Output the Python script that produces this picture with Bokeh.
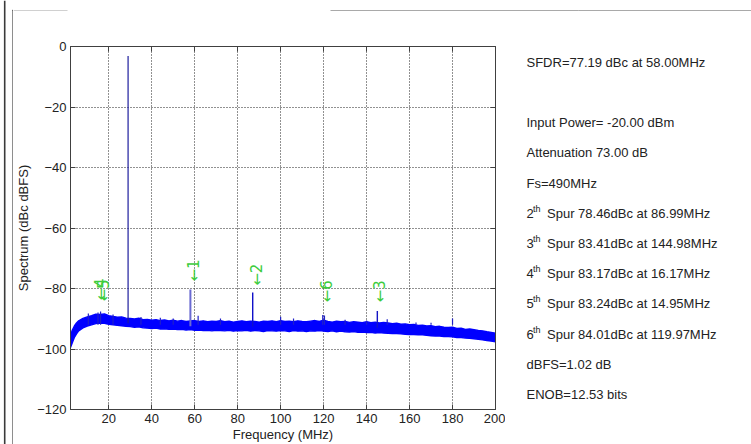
from bokeh.plotting import figure
from bokeh.layouts import row, column
from bokeh.models import LinearAxis, FixedTicker
from bokeh.core.properties import value
from bokeh.embed import file_html
from bokeh.resources import INLINE

# ---------------- data ----------------
x_ticks = [20, 40, 60, 80, 100, 120, 140, 160, 180, 200]
y_ticks = [-120, -100, -80, -60, -40, -20, 0]

floor_freq = [2.2, 3, 4, 5, 6, 8, 10, 12, 14, 16, 18, 20, 22, 24, 26, 28, 30, 32, 34, 36, 38,
              40, 42, 44, 46, 48, 50, 52, 54, 56, 58, 60, 62, 64, 66, 68, 70, 72, 74, 76, 78,
              80, 82, 84, 86, 88, 90, 92, 94, 96, 98, 100, 102, 104, 106, 108, 110, 112, 114,
              116, 118, 120, 122, 124, 126, 128, 130, 132, 134, 136, 138, 140, 142, 144, 146,
              148, 150, 152, 154, 156, 158, 160, 162, 164, 166, 168, 170, 172, 174, 176, 178,
              180, 182, 184, 186, 188, 190, 192, 194, 196, 198, 200]
floor_top = [-95.8, -93.8, -92.4, -91.4, -90.7, -89.9, -89.4, -89.0, -88.5, -88.6, -88.4, -89.0,
             -89.2, -89.5, -89.4, -89.8, -89.9, -90.1, -89.8, -90.3, -90.2, -90.5, -90.3, -90.6,
             -90.4, -90.7, -90.5, -90.8, -90.6, -90.9, -90.7, -90.6, -90.9, -90.7, -91.0, -90.8,
             -90.9, -90.6, -91.0, -90.8, -91.1, -90.9, -90.7, -91.0, -90.8, -90.9, -91.1, -90.8,
             -90.9, -90.7, -91.0, -90.6, -90.9, -90.8, -91.0, -90.7, -90.9, -91.0, -90.8, -90.6,
             -90.9, -90.5, -90.9, -91.1, -90.8, -91.0, -90.9, -91.2, -91.0, -91.1, -91.3, -91.0,
             -91.3, -91.1, -91.4, -91.2, -91.4, -91.6, -91.5, -91.8, -91.7, -92.0, -91.9, -92.2,
             -92.1, -92.4, -92.3, -92.6, -92.5, -92.8, -92.9, -92.8, -93.2, -93.1, -93.5, -93.4,
             -93.6, -93.9, -94.0, -94.3, -94.5, -94.8]
floor_bottom = [-99.5, -98.0, -96.2, -95.0, -94.0, -93.0, -92.4, -92.0, -91.6, -91.4, -91.5, -91.8,
                -92.0, -92.2, -92.3, -92.5, -92.6, -92.8, -92.7, -93.0, -93.1, -93.2, -93.1, -93.4,
                -93.3, -93.5, -93.4, -93.6, -93.5, -93.7, -93.6, -93.8, -93.7, -93.9, -93.8, -94.0,
                -93.8, -93.9, -94.0, -93.8, -94.1, -93.9, -94.0, -93.8, -94.1, -93.9, -94.0, -94.2,
                -93.9, -94.0, -94.1, -93.9, -94.0, -94.2, -93.9, -94.1, -94.0, -94.2, -94.0, -94.1,
                -93.9, -94.1, -94.2, -94.0, -94.3, -94.1, -94.3, -94.4, -94.2, -94.5, -94.4, -94.6,
                -94.5, -94.7, -94.6, -94.7, -94.8, -94.9, -94.9, -95.0, -95.1, -95.2, -95.2, -95.3,
                -95.3, -95.5, -95.6, -95.7, -95.7, -95.9, -95.9, -96.0, -96.2, -96.2, -96.4, -96.5,
                -96.6, -96.8, -97.0, -97.2, -97.4, -97.6]

# main tones / spurs (MHz, dBFS)
tone_freq = [29.0, 58.0, 87.0, 145.0]
tone_top = [-3.1, -80.3, -81.3, -87.4]
tone_base = [-91.5, -92.5, -92.6, -93.0]

# small spikes riding on the noise floor
small_freq = [10.5, 15.0, 16.2, 22.0, 35.0, 44.0, 50.0, 61.6, 72.0, 100.0, 106.0, 119.6, 120.4,
              130.0, 140.0, 149.6, 163.0, 170.0, 180.0, 189.8]
small_top = [-88.3, -87.9, -87.6, -88.6, -89.4, -89.7, -89.9, -89.0, -89.9, -89.3, -89.9, -88.8,
             -88.9, -90.3, -90.6, -90.2, -91.2, -91.3, -89.9, -92.0]

# green spur markers
marker_label = ["1", "2", "3", "4", "5", "6"]
marker_freq = [59.5, 89.0, 146.3, 16.6, 17.8, 121.6]
marker_tip = [-77.7, -79.1, -84.6, -84.0, -84.3, -84.6]

# text panel
sfdr_text = "SFDR=77.19 dBc at 58.00MHz"
info_text = ["Input Power= -20.00 dBm", "Attenuation 73.00 dB", "Fs=490MHz"]
spur_order = ["2", "3", "4", "5", "6"]
spur_dbc = [78.46, 83.41, 83.17, 83.24, 84.01]
spur_mhz = [86.99, 144.98, 16.17, 14.95, 119.97]
tail_text = ["dBFS=1.02 dB", "ENOB=12.53 bits"]

FONT = "Liberation Sans"
W, H = 751, 444
LEFT_W = 13      # left strip width
TOP_H = 11       # top strip height
MAIN_W = 492     # main figure width (canvas x 13 .. 505)
TEXT_W = W - LEFT_W - MAIN_W
FR_L, FR_R, FR_T, FR_B = 70, 495, 46, 410   # plot frame in window pixels


def blank(width, height, xr, yr, bt=0, bb=0):
    f = figure(width=width, height=height, output_backend="svg", toolbar_location=None,
               x_range=xr, y_range=yr, x_axis_location=None, y_axis_location=None,
               min_border=0, min_border_left=0, min_border_right=0,
               min_border_top=bt, min_border_bottom=bb,
               background_fill_color="white", border_fill_color="white")
    f.outline_line_color = None
    f.grid.visible = False
    return f


# ---------------- left strip and top strip (window frame lines) ----------------
p_left = blank(LEFT_W, H, (0, LEFT_W), (H, 0))
p_left.segment(x0=[4.2], y0=[0], x1=[4.2], y1=[H], line_color="#3a3a3a", line_width=1.6)
p_left.segment(x0=[12.6], y0=[9.6], x1=[12.6], y1=[H], line_color="#444444", line_width=1.4)
p_left.segment(x0=[12.0], y0=[9.9], x1=[13], y1=[9.9], line_color="#444444", line_width=1.4)

p_top = blank(W - LEFT_W, TOP_H, (LEFT_W, W), (TOP_H, 0))
p_top.segment(x0=[LEFT_W], y0=[9.9], x1=[67], y1=[9.9], line_color="#444444", line_width=1.4)
p_top.segment(x0=[330], y0=[9.6], x1=[578], y1=[9.6], line_color="#555555", line_width=1.2)
p_top.segment(x0=[578], y0=[10.0], x1=[W], y1=[10.0], line_color="#555555", line_width=2.0)

# ---------------- main spectrum figure ----------------
p = figure(width=MAIN_W, height=H - TOP_H, output_backend="svg", toolbar_location=None,
           x_range=(2.2, 200), y_range=(-120, 0),
           min_border_left=FR_L - LEFT_W, min_border_right=MAIN_W - (FR_R - LEFT_W),
           min_border_top=FR_T - TOP_H, min_border_bottom=H - FR_B,
           background_fill_color="white", border_fill_color="white")

p.outline_line_color = "#404040"
p.outline_line_width = 1

for ax in (p.xaxis[0], p.yaxis[0]):
    ax.major_label_text_font = FONT
    ax.major_label_text_font_size = "13px"
    ax.major_label_text_color = "#222222"
    ax.axis_label_text_font = FONT
    ax.axis_label_text_font_size = "13px"
    ax.axis_label_text_font_style = "normal"
    ax.axis_label_text_color = "#222222"
    ax.axis_line_color = "#404040"
    ax.major_tick_line_color = "#404040"
    ax.major_tick_in = 5
    ax.major_tick_out = 0
    ax.minor_tick_line_color = None

p.xaxis[0].ticker = FixedTicker(ticks=x_ticks)
p.yaxis[0].ticker = FixedTicker(ticks=y_ticks)
p.xaxis[0].axis_label = "Frequency (MHz)"
p.yaxis[0].axis_label = "Spectrum (dBc dBFS)"
p.xaxis[0].major_label_standoff = 4
p.xaxis[0].axis_label_standoff = 1
p.yaxis[0].major_label_standoff = 4
p.yaxis[0].axis_label_standoff = 3

# box axes on the right and top: inward ticks only, no labels
for loc, tk in (("right", y_ticks), ("above", x_ticks)):
    a = LinearAxis(ticker=FixedTicker(ticks=tk))
    a.major_label_text_font_size = "0px"
    a.major_label_text_color = None
    a.major_label_standoff = 0
    a.axis_line_color = "#404040"
    a.major_tick_line_color = "#404040"
    a.major_tick_in = 5
    a.major_tick_out = 0
    a.minor_tick_line_color = None
    p.add_layout(a, loc)

p.xgrid.ticker = FixedTicker(ticks=x_ticks)
p.ygrid.ticker = FixedTicker(ticks=y_ticks)
p.grid.grid_line_color = "#222222"
p.grid.grid_line_dash = "1 2"
p.grid.grid_line_width = 1

# noise floor band
p.varea(x=floor_freq, y1=floor_bottom, y2=floor_top, fill_color="#0000ff")
p.line(x=floor_freq, y=floor_top, line_color="#0000ff", line_width=1.4)
p.line(x=floor_freq, y=floor_bottom, line_color="#0000ff", line_width=1.4)

# small spikes
small_base = [-92.0] * len(small_freq)
p.segment(x0=small_freq, y0=small_base, x1=small_freq, y1=small_top,
          line_color="#2020c8", line_width=1.2)

# tones
tone_colors = ["#1c1c9c", "#6a6ad2", "#1010c8", "#1414c4"]
tone_widths = [1.2, 2.0, 1.4, 1.4]
for f, b, t, c, w in zip(tone_freq, tone_base, tone_top, tone_colors, tone_widths):
    p.segment(x0=[f], y0=[b], x1=[f], y1=[t], line_color=c, line_width=w)

# green markers
p.text(x=marker_freq, y=marker_tip, text=["\u2190" + s for s in marker_label],
       angle=90, angle_units="deg", text_align="left", text_baseline="middle",
       text_color="#3ccc3c", text_font=value("DejaVu Sans"), text_font_size="15px")

# ---------------- right text panel ----------------
# its frame spans the same rows as the main frame (FR_T .. FR_B) in window pixels
X0 = LEFT_W + MAIN_W
pt = blank(TEXT_W, H - TOP_H, (X0, W), (FR_B, FR_T), bt=FR_T - TOP_H, bb=H - FR_B)

TX = 526
ROW0 = 61.7
DY = 30.3
tx, ty, tt = [], [], []
sx, sy, st = [], [], []

tx.append(TX); ty.append(ROW0); tt.append(sfdr_text)
r = 2
for t in info_text:
    tx.append(TX); ty.append(ROW0 + DY * r); tt.append(t)
    r += 1
for o, d, m in zip(spur_order, spur_dbc, spur_mhz):
    y = ROW0 + DY * r
    tx.append(TX); ty.append(y); tt.append(o)
    sx.append(TX + 6.5); sy.append(y - 4.5); st.append("th")
    tx.append(TX + 20.5); ty.append(y); tt.append("Spur %.2fdBc at %.2fMHz" % (d, m))
    r += 1
for t in tail_text:
    tx.append(TX); ty.append(ROW0 + DY * r); tt.append(t)
    r += 1

pt.text(x=tx, y=ty, text=tt, text_font=value(FONT), text_font_size="13px",
        text_color="#222222", text_baseline="middle", text_align="left")
pt.text(x=sx, y=sy, text=st, text_font=value(FONT), text_font_size="9px",
        text_color="#222222", text_baseline="middle", text_align="left")

layout = row(p_left, column(p_top, row(p, pt)))
open("out.html", "w").write(file_html(layout, INLINE))
